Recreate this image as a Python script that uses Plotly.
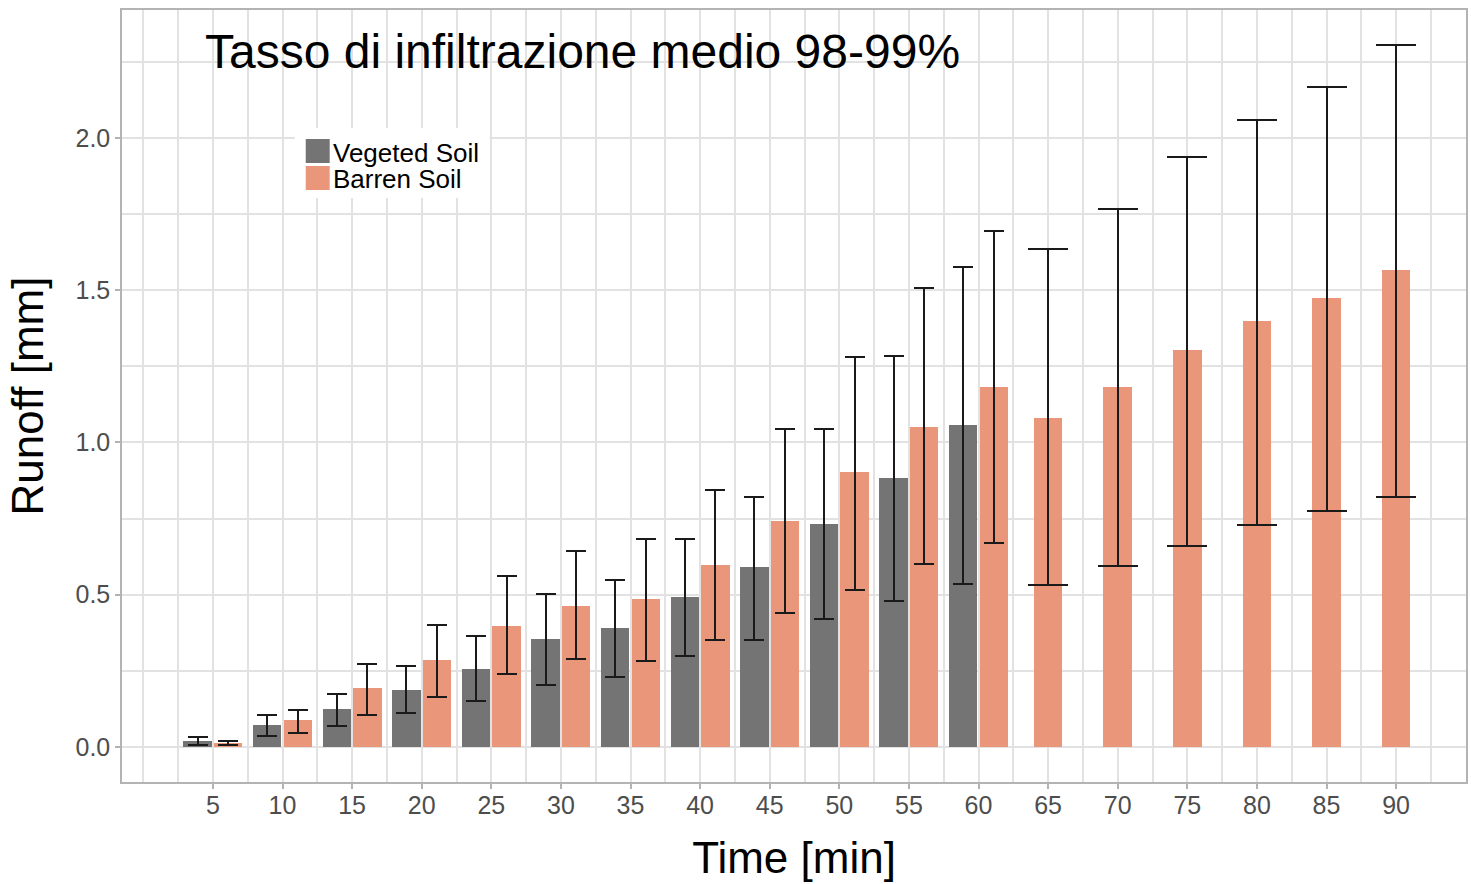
import plotly.graph_objects as go

# ---------------- data ----------------
times = [5, 10, 15, 20, 25, 30, 35, 40, 45, 50, 55, 60, 65, 70, 75, 80, 85, 90]

veg_times = [5, 10, 15, 20, 25, 30, 35, 40, 45, 50, 55, 60]
veg_mean = [0.021, 0.071, 0.124, 0.187, 0.256, 0.355, 0.391, 0.493, 0.591, 0.732, 0.883, 1.057]
veg_lo   = [0.008, 0.035, 0.070, 0.111, 0.151, 0.204, 0.230, 0.299, 0.351, 0.420, 0.479, 0.535]
veg_hi   = [0.034, 0.105, 0.175, 0.267, 0.366, 0.502, 0.548, 0.683, 0.821, 1.044, 1.284, 1.576]

bar_times = times
bar_mean = [0.014, 0.090, 0.194, 0.287, 0.397, 0.463, 0.486, 0.598, 0.742, 0.903, 1.051, 1.182,
            1.080, 1.182, 1.304, 1.399, 1.474, 1.566]
bar_lo   = [0.005, 0.046, 0.105, 0.163, 0.239, 0.289, 0.282, 0.351, 0.440, 0.516, 0.601, 0.670,
            0.532, 0.594, 0.660, 0.729, 0.775, 0.821]
bar_hi   = [0.019, 0.123, 0.274, 0.400, 0.562, 0.644, 0.683, 0.844, 1.044, 1.281, 1.507, 1.695,
            1.635, 1.767, 1.938, 2.059, 2.167, 2.305]

series_names = ["Vegeted Soil", "Barren Soil"]
title_text = "Tasso di infiltrazione medio 98-99%"
x_title = "Time [min]"
y_title = "Runoff [mm]"

# ---------------- styles ----------------
GRAY = "#747474"
SALMON = "#E9967A"
ERR = "#1a1a1a"
GRID = "#e2e2e2"
FONT = "Liberation Sans, Arial, sans-serif"
W, H = 1471, 884
ML, MR, MT, MB = 122, 3, 10, 102
BAR_W = 2.05
DODGE = 1.1

fig = go.Figure()

# vegetated bars (dodged left)
fig.add_trace(go.Bar(
    x=[t - DODGE for t in veg_times], y=veg_mean, width=BAR_W,
    marker=dict(color=GRAY, line=dict(width=0)),
    error_y=dict(type="data", symmetric=False,
                 array=[h - m for h, m in zip(veg_hi, veg_mean)],
                 arrayminus=[m - l for m, l in zip(veg_mean, veg_lo)],
                 color=ERR, thickness=2, width=10),
    name=series_names[0], showlegend=False))

# barren bars: dodged where vegetated exists, centered otherwise
veg_set = set(veg_times)
dod_idx = [i for i, t in enumerate(bar_times) if t in veg_set]
solo_idx = [i for i, t in enumerate(bar_times) if t not in veg_set]

for idx, off, cap in [(dod_idx, DODGE, 10), (solo_idx, 0.0, 20)]:
    fig.add_trace(go.Bar(
        x=[bar_times[i] + off for i in idx], y=[bar_mean[i] for i in idx], width=BAR_W,
        marker=dict(color=SALMON, line=dict(width=0)),
        error_y=dict(type="data", symmetric=False,
                     array=[bar_hi[i] - bar_mean[i] for i in idx],
                     arrayminus=[bar_mean[i] - bar_lo[i] for i in idx],
                     color=ERR, thickness=2, width=cap),
        name=series_names[1], showlegend=False))

def px_x(p):
    return (p - ML) / (W - ML - MR)

def px_y(p):
    return (H - MB - p) / (H - MT - MB)

shapes = [
    # legend background
    dict(type="rect", xref="paper", yref="paper", x0=px_x(295), x1=px_x(490),
         y0=px_y(198), y1=px_y(128), fillcolor="white", line=dict(width=0), layer="above"),
    dict(type="rect", xref="paper", yref="paper", x0=px_x(306), x1=px_x(330),
         y0=px_y(163), y1=px_y(139), fillcolor=GRAY, line=dict(width=0), layer="above"),
    dict(type="rect", xref="paper", yref="paper", x0=px_x(306), x1=px_x(330),
         y0=px_y(190), y1=px_y(166), fillcolor=SALMON, line=dict(width=0), layer="above"),
]
annotations = [
    dict(text=series_names[0], xref="paper", yref="paper", x=px_x(331), y=px_y(153),
         xanchor="left", yanchor="middle", showarrow=False,
         font=dict(family=FONT, size=26, color="black")),
    dict(text=series_names[1], xref="paper", yref="paper", x=px_x(331), y=px_y(179),
         xanchor="left", yanchor="middle", showarrow=False,
         font=dict(family=FONT, size=26, color="black")),
    dict(text=title_text, xref="paper", yref="paper", x=px_x(203), y=px_y(52),
         xanchor="left", yanchor="middle", showarrow=False,
         font=dict(family=FONT, size=48, color="black")),
]

fig.update_layout(
    width=W, height=H,
    margin=dict(l=ML, r=MR, t=MT, b=MB),
    paper_bgcolor="white", plot_bgcolor="white",
    barmode="overlay", bargap=0,
    shapes=shapes, annotations=annotations,
    font=dict(family=FONT),
)

fig.update_xaxes(
    range=[-1.53, 95.02], tickmode="array", tickvals=times, ticktext=[str(t) for t in times],
    showgrid=True, gridcolor=GRID, gridwidth=1.5,
    minor=dict(tickmode="linear", tick0=0, dtick=2.5, showgrid=True, gridcolor=GRID, gridwidth=1.5),
    showline=True, linecolor="#b3b3b3", linewidth=1.5, mirror=True,
    ticks="outside", ticklen=5, tickcolor="#b3b3b3", tickwidth=1.5,
    ticklabelstandoff=-5,
    tickfont=dict(family=FONT, size=25, color="#4d4d4d"),
    zeroline=False,
    title=dict(text=x_title, font=dict(family=FONT, size=44, color="black"), standoff=24),
)
fig.update_yaxes(
    range=[-0.115, 2.42], tickmode="array", tickvals=[0, 0.5, 1.0, 1.5, 2.0],
    ticktext=["0.0", "0.5", "1.0", "1.5", "2.0"],
    showgrid=True, gridcolor=GRID, gridwidth=1.5,
    minor=dict(tickmode="linear", tick0=0, dtick=0.25, showgrid=True, gridcolor=GRID, gridwidth=1.5),
    showline=True, linecolor="#b3b3b3", linewidth=1.5, mirror=True,
    ticks="outside", ticklen=5, tickcolor="#b3b3b3", tickwidth=1.5,
    tickfont=dict(family=FONT, size=25, color="#4d4d4d"),
    zeroline=False,
    title=dict(text=y_title, font=dict(family=FONT, size=44, color="black"), standoff=18),
)

fig.write_html("out.html")
